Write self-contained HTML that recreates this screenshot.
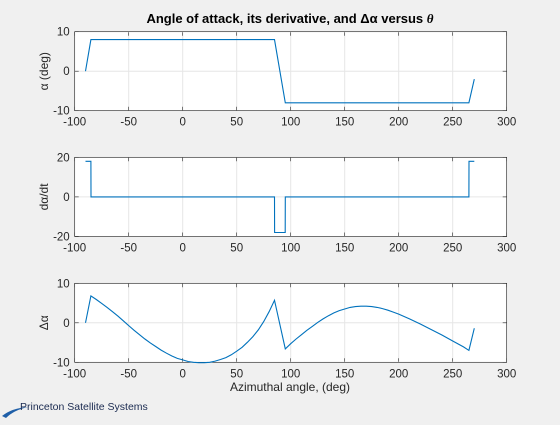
<!DOCTYPE html>
<html><head><meta charset="utf-8"><style>
body{margin:0;background:#f0f0f0;width:560px;height:420px;overflow:hidden;font-family:"Liberation Sans",Arial,sans-serif}
svg text{font-family:"Liberation Sans",Arial,sans-serif}
</style></head><body>
<svg id="fig" width="560" height="420">
<rect width="560" height="420" fill="#f0f0f0"/>
<text x="290" y="23" text-anchor="middle" font-size="13" font-weight="bold" fill="#000">Angle of attack, its derivative, and Δα versus <tspan font-style="italic" font-family="Liberation Serif">θ</tspan></text>
<text x="290" y="391" text-anchor="middle" font-size="12" fill="#262626">Azimuthal angle,  (deg)</text>
<g>
<path d="M2,416 Q12,408 28,407 Q14,410 6,418 Z" fill="#1f5fa8"/>
<text x="20" y="410" font-size="10.5" fill="#1a2a50">Princeton Satellite Systems</text>
</g>
</svg>
<script>
const xTicks=[-100,-50,0,50,100,150,200,250,300];
const alphaX=[-90,-85,85,95,265,270];
const alphaY=[0,8,8,-8,-8,-2];
const dadtX=[-90,-89,-85,-84.9,85,85.1,94.9,95,265,265.1,269,270];
const dadtY=[18,18,18,0,0,-18,-18,0,0,18,18,18];
const dX=[-90,-85,-80,-75,-70,-65,-60,-55,-50,-45,-40,-35,-30,-25,-20,-15,-10,-5,0,5,10,15,20,25,30,35,40,45,50,55,60,65,70,75,80,85,95,100,105,110,115,120,125,130,135,140,145,150,155,160,165,170,175,180,185,190,195,200,210,220,230,240,250,260,265,270];
const dY=[0,6.8,5.9,4.9,3.9,2.8,1.7,0.5,-0.7,-1.9,-3.0,-4.1,-5.1,-6.0,-6.9,-7.7,-8.4,-9.0,-9.4,-9.8,-10,-10.1,-10.1,-10,-9.7,-9.3,-8.8,-8.1,-7.2,-6.2,-4.9,-3.5,-1.8,0.3,2.8,5.7,-6.6,-5.3,-4.1,-3.0,-1.9,-0.9,0.1,1.0,1.8,2.5,3.1,3.5,3.9,4.1,4.2,4.2,4.1,3.9,3.6,3.2,2.7,2.2,1.0,-0.3,-1.7,-3.1,-4.6,-6.1,-7.0,-1.4];
const panels=[
 {top:31.7,bot:110.7,ymin:-10,ymax:10,yt:[-10,0,10],xs:alphaX,ys:alphaY,lab:"α (deg)",name:"alpha"},
 {top:157.3,bot:236.5,ymin:-20,ymax:20,yt:[-20,0,20],xs:dadtX,ys:dadtY,lab:"dα/dt",name:"dadt"},
 {top:283.3,bot:362.3,ymin:-10,ymax:10,yt:[-10,0,10],xs:dX,ys:dY,lab:"Δα",name:"delta-alpha"}
];
const X0=74.7,X1=506.7,NS="http://www.w3.org/2000/svg";
const svg=document.getElementById('fig');
function mk(t,a,p){const e=document.createElementNS(NS,t);for(const k in a)e.setAttribute(k,a[k]);(p||svg).appendChild(e);return e;}
const sx=v=>X0+(v+100)/400*(X1-X0);
panels.forEach(p=>{
 const sy=v=>p.bot-(v-p.ymin)/(p.ymax-p.ymin)*(p.bot-p.top);
 const g=mk('g',{});
 
 
 mk('rect',{x:X0,y:p.top,width:X1-X0,height:p.bot-p.top,fill:'#fff'},g);
 xTicks.forEach(t=>{const x=sx(t);
  mk('line',{x1:x,x2:x,y1:p.top,y2:p.bot,stroke:'#e6e6e6','stroke-width':1},g);
  mk('line',{x1:x,x2:x,y1:p.bot,y2:p.bot-4,stroke:'#262626','stroke-width':0.6},g);
  mk('line',{x1:x,x2:x,y1:p.top,y2:p.top+4,stroke:'#262626','stroke-width':0.6},g);
  const tx=mk('text',{x:x,y:p.bot+15,'text-anchor':'middle','font-size':11.5,fill:'#262626'},g);tx.textContent=t;
  
  
 });
 p.yt.forEach(t=>{const y=sy(t);
  mk('line',{x1:X0,x2:X1,y1:y,y2:y,stroke:'#e6e6e6','stroke-width':1},g);
  mk('line',{x1:X0,x2:X0+4,y1:y,y2:y,stroke:'#262626','stroke-width':0.6},g);
  mk('line',{x1:X1,x2:X1-4,y1:y,y2:y,stroke:'#262626','stroke-width':0.6},g);
  const tx=mk('text',{x:X0-5,y:y+4,'text-anchor':'end','font-size':11.5,fill:'#262626'},g);tx.textContent=t;
  
  
 });
 mk('rect',{x:X0,y:p.top,width:X1-X0,height:p.bot-p.top,fill:'none',stroke:'#262626','stroke-width':0.6},g);
 const cy=(p.top+p.bot)/2;
 const yl=mk('text',{x:48,y:cy,'text-anchor':'middle','font-size':12,fill:'#262626',transform:`rotate(-90 48 ${cy})`},g);yl.textContent=p.lab;
 
 
 const pts=p.xs.map((v,i)=>sx(v).toFixed(1)+','+sy(p.ys[i]).toFixed(1)).join(' ');
 const ln=mk('polyline',{points:pts,fill:'none',stroke:'#0072bd','stroke-width':1.1},g);
 
 
});
</script>
</body></html>
